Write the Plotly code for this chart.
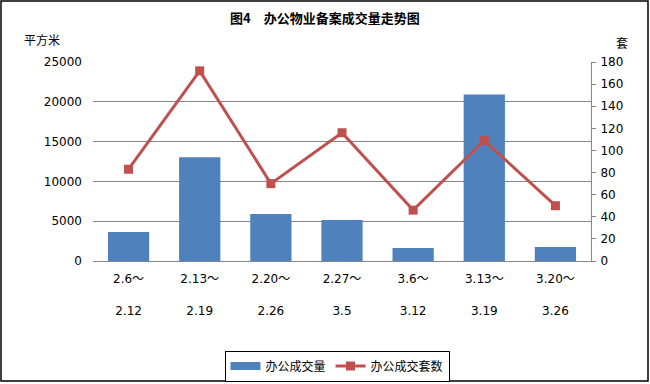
import plotly.graph_objects as go

categories = ["2.6～<br><br>2.12", "2.13～<br><br>2.19", "2.20～<br><br>2.26", "2.27～<br><br>3.5",
              "3.6～<br><br>3.12", "3.13～<br><br>3.19", "3.20～<br><br>3.26"]
area_values = [3630, 13030, 5900, 5150, 1630, 20930, 1750]
unit_values = [83, 172, 70, 116, 46, 109, 50]

W, H = 650, 384
L, R, T, B = 93, 59, 62, 123

fig = go.Figure()
fig.add_trace(go.Bar(x=categories, y=area_values, name="办公成交量", showlegend=False,
                     marker=dict(color="#4F81BD", line=dict(width=0))))
# legend-only entry so the bar key is drawn as a wide block like the original
fig.add_trace(go.Scatter(x=[None], y=[None], name="办公成交量", mode="lines",
                         line=dict(color="#4F81BD", width=8)))
fig.add_trace(go.Scatter(x=categories, y=unit_values, name="办公成交套数", yaxis="y2",
                         mode="lines+markers",
                         line=dict(color="#C0504D", width=3),
                         marker=dict(symbol="square", size=9, color="#C0504D")))

pw = W - L - R
ph = H - T - B
def px(x):
    return (x - L) / pw
def py(y):
    return (H - B - y) / ph

font_num = "DejaVu Sans, Noto Sans CJK SC"
fig.update_layout(
    width=W, height=H,
    margin=dict(l=L, r=R, t=T, b=B, autoexpand=False),
    paper_bgcolor="white", plot_bgcolor="white",
    bargap=0.42,
    font=dict(family="Noto Sans CJK SC", size=12, color="black"),
    showlegend=True,
    legend=dict(orientation="h", x=px(337), xanchor="center", y=py(366), yanchor="middle",
                bordercolor="black", borderwidth=1, font=dict(size=12),
                itemwidth=30, tracegroupgap=0, traceorder="normal"),
    xaxis=dict(showline=True, linecolor="#868686", linewidth=1, ticks="", automargin=False,
               tickfont=dict(family=font_num, size=12), ticklabelstandoff=7),
    yaxis=dict(range=[0, 25000], dtick=5000, tickformat="d", showgrid=True, gridcolor="#868686",
               gridwidth=1, showline=False, zeroline=False, automargin=False,
               tickfont=dict(family=font_num, size=12), ticklabelstandoff=10),
    yaxis2=dict(range=[0, 180], dtick=20, overlaying="y", side="right", showgrid=False,
                showline=True, linecolor="#868686", linewidth=1, ticks="outside", ticklen=4,
                tickcolor="#868686", zeroline=False, automargin=False,
                tickfont=dict(family=font_num, size=12), ticklabelstandoff=2),
    annotations=[
        dict(text="<b>图4　办公物业备案成交量走势图</b>", x=px(325), y=py(18), xref="paper", yref="paper",
             showarrow=False, font=dict(size=13), xanchor="center", yanchor="middle"),
        dict(text="平方米", x=px(22), y=py(39), xref="paper", yref="paper",
             showarrow=False, font=dict(size=12), xanchor="left", yanchor="middle"),
        dict(text="套", x=px(622), y=py(43), xref="paper", yref="paper",
             showarrow=False, font=dict(size=12), xanchor="center", yanchor="middle"),
    ],
    shapes=[dict(type="rect", xref="paper", yref="paper", x0=px(1), x1=px(648), y0=py(381), y1=py(1),
                 line=dict(color="black", width=1.5), fillcolor="rgba(0,0,0,0)")],
)
fig.write_html("out.html", config={"displayModeBar": False},
               post_script="document.body.style.margin='0px';")
